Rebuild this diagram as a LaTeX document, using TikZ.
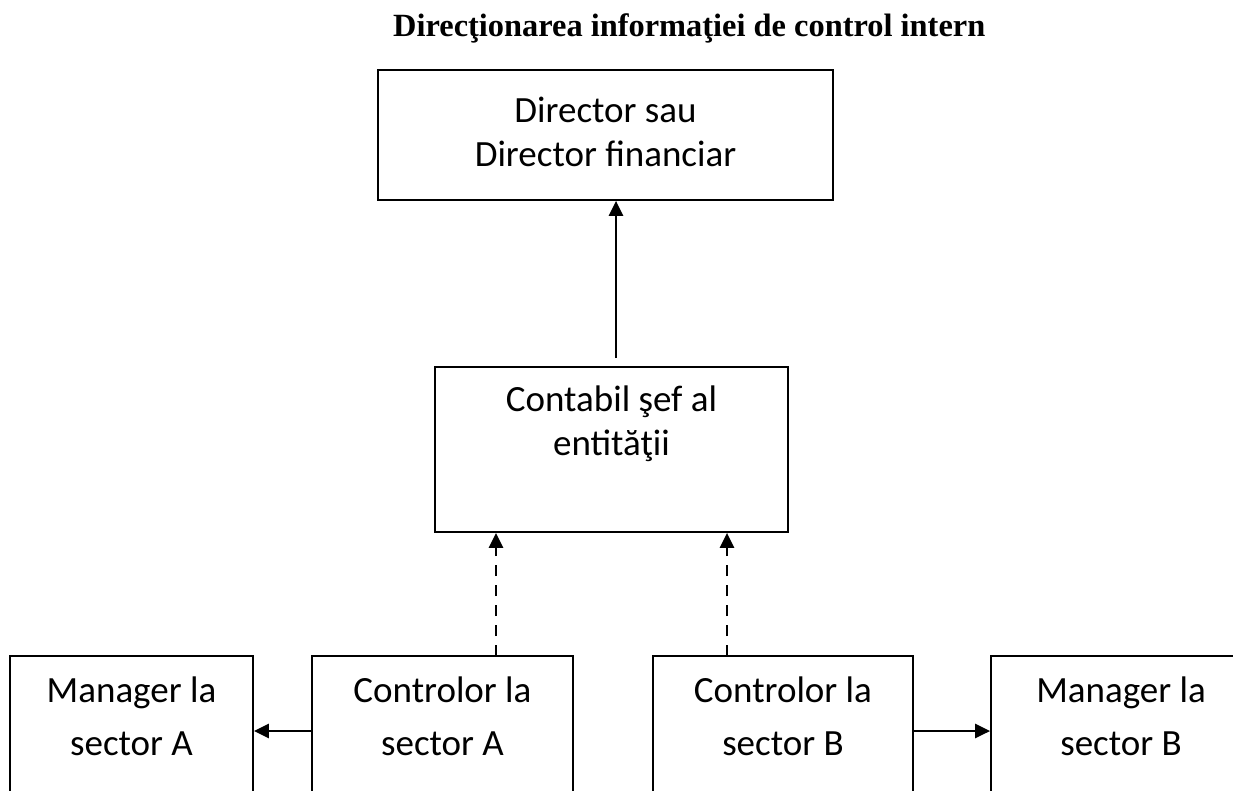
\documentclass[tikz,border=0pt]{standalone}
\usepackage{fontspec}
\setmainfont{Carlito}
\newfontfamily\titlefont{Liberation Serif}
\usetikzlibrary{arrows.meta}
% two centred lines whose baseline is that of the first line
\newcommand\twolines[3]{\vtop{\baselineskip=#3\lineskiplimit=-100pt\halign{\hfil##\hfil\cr #1\cr #2\cr}}}
\begin{document}
\begin{tikzpicture}[x=1pt,y=-1pt,
  box/.style={draw, line width=1.7pt, inner sep=0pt, anchor=base,
    font=\fontsize{37}{44}\selectfont},
  lowbox/.style={box, text height=46pt, text depth=104pt},
  conn/.style={line width=2.7pt, -{Triangle[length=15pt,width=14pt]}},
  dconn/.style={conn, dash pattern=on 11pt off 9pt}]
\useasboundingbox (0,0) rectangle (1233,791);
\fill[white] (0,0) rectangle (1233,791);
\clip (0,0) rectangle (1233,791);

\node[font=\titlefont\bfseries\fontsize{32.4}{38}\selectfont, anchor=base west, inner sep=0pt]
  (title) at (393,37) {Direcţionarea informaţiei de control intern};

\node[box, minimum width=455pt, text height=53pt, text depth=77pt]
  (dir) at (605.5,123) {\twolines{Director sau}{Director financiar}{44pt}};
\node[box, minimum width=353pt, text height=44pt, text depth=121pt]
  (cont) at (611.5,411) {\twolines{Contabil şef al}{entităţii}{44pt}};

\node[lowbox, minimum width=243pt] (mgrA) at (131.5,702) {\twolines{Manager la}{sector A}{53pt}};
\node[lowbox, minimum width=261pt] (ctrlA) at (442.5,702) {\twolines{Controlor la}{sector A}{53pt}};
\node[lowbox, minimum width=260pt] (ctrlB) at (783,702) {\twolines{Controlor la}{sector B}{53pt}};
\node[lowbox, minimum width=260pt] (mgrB) at (1121,702) {\twolines{Manager la}{sector B}{53pt}};

\coordinate (up) at (616,358);
\draw[conn] (up) -- (up |- dir.south);

\coordinate (dA) at (496,656);
\coordinate (dB) at (727,656);
\draw[dconn] (dA) -- (dA |- cont.south);
\draw[dconn] (dB) -- (dB |- cont.south);

\draw[conn] (ctrlA.west) -- (mgrA.east);
\draw[conn] (ctrlB.east) -- (mgrB.west);
\end{tikzpicture}
\end{document}
